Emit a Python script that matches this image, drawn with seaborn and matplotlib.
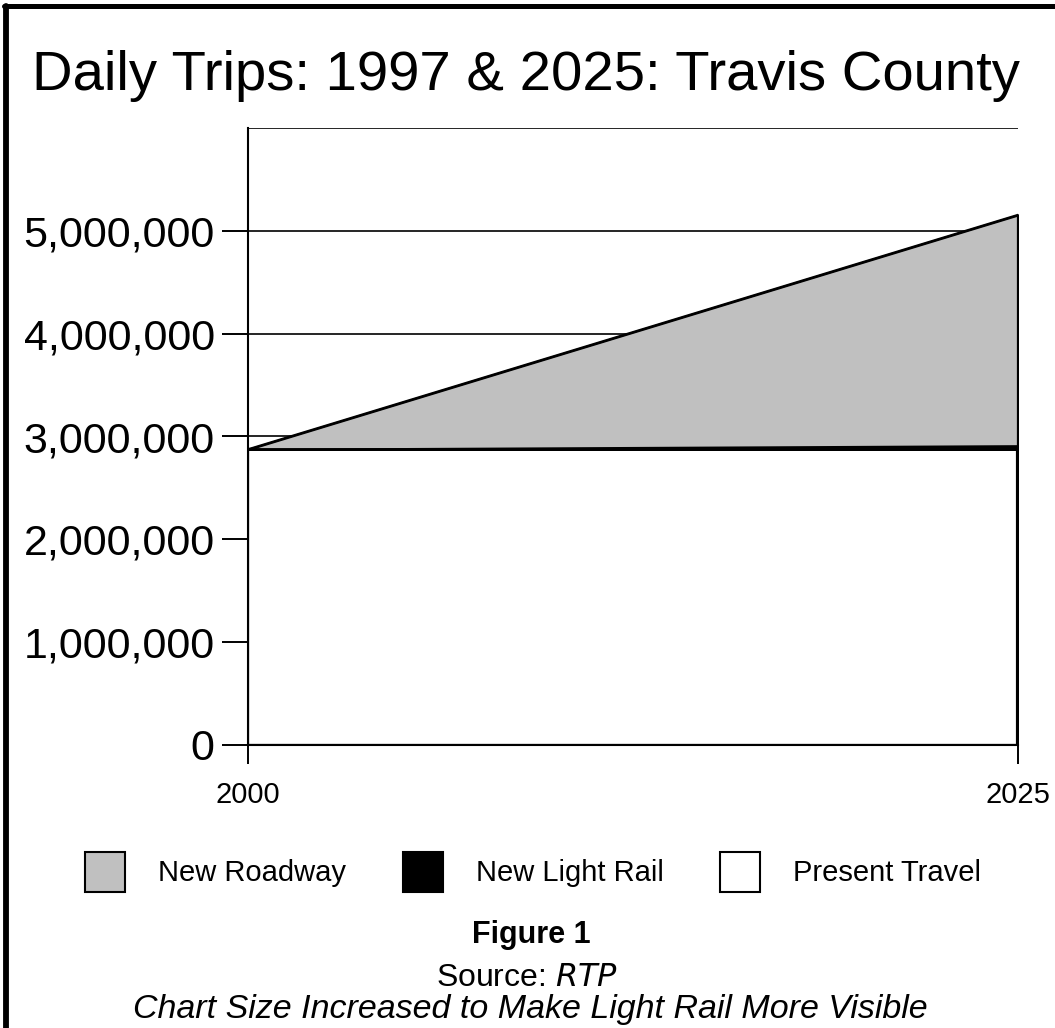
import numpy as np
import pandas as pd
import matplotlib
matplotlib.use("Agg")
import matplotlib.pyplot as plt
from matplotlib.lines import Line2D
from matplotlib.patches import Patch
from matplotlib.ticker import FuncFormatter
import seaborn as sns

# ---- data ----
years = [2000, 2025]
present_travel = [2875000, 2875000]
new_light_rail = [0, 35000]
new_roadway = [0, 2245000]
series_names = ["New Roadway", "New Light Rail", "Present Travel"]
series_colors = {"New Roadway": "#c0c0c0", "New Light Rail": "#000000", "Present Travel": "#ffffff"}
y_ticks = [0, 1000000, 2000000, 3000000, 4000000, 5000000]
x_ticks = [2000, 2025]

sns.set_theme(style="white")
plt.rcParams["font.family"] = ["Liberation Sans", "DejaVu Sans"]
plt.rcParams["text.color"] = "black"
plt.rcParams["xtick.labelcolor"] = "black"
plt.rcParams["ytick.labelcolor"] = "black"
plt.rcParams["legend.labelcolor"] = "black"

W, H = 1055, 1028
fig = plt.figure(figsize=(W / 100, H / 100), dpi=100)
ax = fig.add_axes([248 / W, 1 - 745 / H, (1018 - 248) / W, (745 - 128) / H])

df = pd.DataFrame({"year": years,
                   "Present Travel": present_travel,
                   "New Light Rail": new_light_rail,
                   "New Roadway": new_roadway})
df["lvl1"] = df["Present Travel"]
df["lvl2"] = df["lvl1"] + df["New Light Rail"]
df["lvl3"] = df["lvl2"] + df["New Roadway"]

# gridlines under the areas
for yv in [1000000, 2000000, 3000000, 4000000, 5000000, 6000000]:
    ax.axhline(yv, color="black", lw=1.2, zorder=0)

ax.fill_between(df["year"], 0, df["lvl1"], facecolor=series_colors["Present Travel"],
                edgecolor="black", lw=1.6, zorder=2)
ax.fill_between(df["year"], df["lvl1"], df["lvl2"], facecolor=series_colors["New Light Rail"],
                edgecolor="black", lw=1.6, zorder=3)
ax.fill_between(df["year"], df["lvl2"], df["lvl3"], facecolor=series_colors["New Roadway"],
                edgecolor="black", lw=1.6, zorder=4)
sns.lineplot(x="year", y="lvl1", data=df, color="black", lw=2.0, ax=ax, zorder=5)
sns.lineplot(x="year", y="lvl3", data=df, color="black", lw=1.6, ax=ax, zorder=5)
ax.plot([years[-1], years[-1]], [0, df["lvl1"].iloc[-1]], color="black", lw=3.0, zorder=5)
ax.plot([years[-1], years[-1]], [df["lvl1"].iloc[-1], df["lvl3"].iloc[-1]], color="black", lw=1.6, zorder=5)

ax.set_xlim(2000, 2025)
ax.set_ylim(0, 6000000)
ax.set_xticks(x_ticks)
ax.set_yticks(y_ticks)
ax.yaxis.set_major_formatter(FuncFormatter(lambda v, p: f"{int(v):,}"))
ax.set_xlabel("")
ax.set_ylabel("")
for s in ["top", "right"]:
    ax.spines[s].set_visible(False)
for s in ["left", "bottom"]:
    ax.spines[s].set_visible(True)
    ax.spines[s].set_color("black")
    ax.spines[s].set_linewidth(1.5)
ax.tick_params(axis="y", direction="out", length=19, width=1.4, color="black",
               labelsize=31, pad=5, left=True, labelcolor="black")
ax.tick_params(axis="x", direction="out", length=14, width=1.4, color="black",
               labelsize=21, pad=12, bottom=True, labelcolor="black")

# title
fig.text(526 / W, 1 - 90 / H, "Daily Trips: 1997 & 2025: Travis County",
         ha="center", va="baseline", fontsize=40.5, color="black")

# legend
handles = [Patch(facecolor=series_colors[n], edgecolor="black", lw=1.5, label=n) for n in series_names]
leg = fig.legend(handles=handles, loc="center", bbox_to_anchor=(533 / W, 1 - 872 / H), ncol=3,
                 frameon=False, fontsize=21, handlelength=1.37, handleheight=1.7,
                 handletextpad=1.13, columnspacing=1.95)
for t in leg.get_texts():
    t.set_color("black")

fig.text(531 / W, 1 - 943 / H, "Figure 1", ha="center", va="baseline",
         fontsize=22, fontweight="bold", color="black")
fig.text(527 / W, 1 - 986 / H, "Source: $\\it{RTP}$", ha="center", va="baseline",
         fontsize=23, color="black")
fig.text(530 / W, 1 - 1018 / H, "Chart Size Increased to Make Light Rail More Visible",
         ha="center", va="baseline", fontsize=24.5, style="italic", color="black")

# outer frame (left and top)
fig.add_artist(Line2D([6 / W, 6 / W], [0, 1 - 6 / H], transform=fig.transFigure, color="black", lw=4.2))
fig.add_artist(Line2D([4 / W, 1], [1 - 6 / H, 1 - 6 / H], transform=fig.transFigure, color="black", lw=3.6))

fig.savefig("out.png", dpi=100, facecolor="white")
